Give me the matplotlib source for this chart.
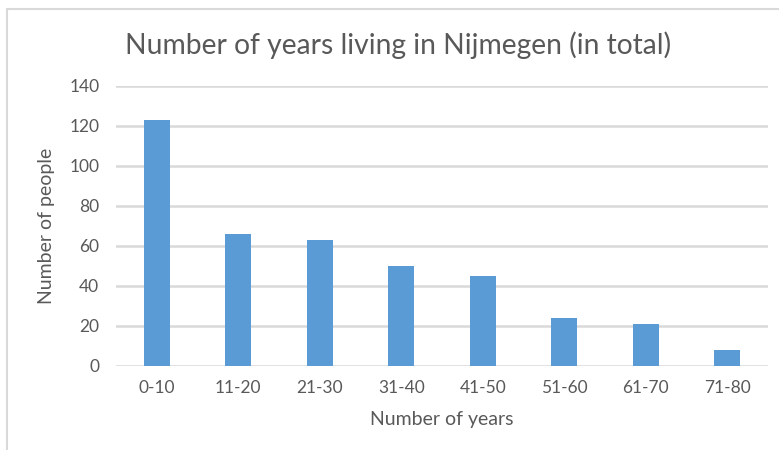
import matplotlib
matplotlib.use("Agg")
import matplotlib.pyplot as plt
from matplotlib.patches import Rectangle

categories = ["0-10", "11-20", "21-30", "31-40", "41-50", "51-60", "61-70", "71-80"]
values = [123, 66, 63, 50, 45, 24, 21, 8]
yticks = [0, 20, 40, 60, 80, 100, 120, 140]

title = "Number of years living in Nijmegen (in total)"
xlabel = "Number of years"
ylabel = "Number of people"

W, H = 779, 450
fig = plt.figure(figsize=(W / 100, H / 100), dpi=100)
plt.rcParams['font.family'] = ['Lato', 'DejaVu Sans']

txt = "#595959"
grid = "#d9d9d9"
bar_c = "#5b9bd5"

# chart border
fig.patches.append(Rectangle((7 / W, -0.1), 1.1, (H - 9) / H + 0.1, transform=fig.transFigure,
                             fill=False, edgecolor=grid, linewidth=1.5))
# clipped glyph at top-left (descender of text above the chart)
fig.text(0.0, 1 + 3 / H, "g", fontsize=13, color="#222222", va="baseline", ha="left")

ax = fig.add_axes([116 / W, 1 - 366 / H, (768 - 116) / W, (366 - 86) / H])
x = range(len(categories))
ax.bar(x, values, width=0.32, color=bar_c, zorder=3)
ax.set_xlim(-0.5, len(categories) - 0.5)
ax.set_ylim(0, 140)
ax.set_yticks(yticks)
ax.set_xticks(list(x))
ax.set_xticklabels(categories)
ax.yaxis.grid(True, color=grid, linewidth=1.8, zorder=0)
ax.set_axisbelow(True)
for s in ax.spines.values():
    s.set_visible(False)
ax.tick_params(axis='both', length=0, labelsize=12.5, colors=txt, labelcolor=txt)
ax.tick_params(axis='x', pad=10)
ax.tick_params(axis='y', pad=12)

fig.text(398 / W, 1 - 45 / H, title, fontsize=20.3, color=txt, ha="center", va="center")
fig.text(442 / W, 1 - 420 / H, xlabel, fontsize=14, color=txt, ha="center", va="center")
fig.text(47 / W, 1 - 226 / H, ylabel, fontsize=14, color=txt, ha="center", va="center", rotation=90)

fig.savefig("out.png", dpi=100)
